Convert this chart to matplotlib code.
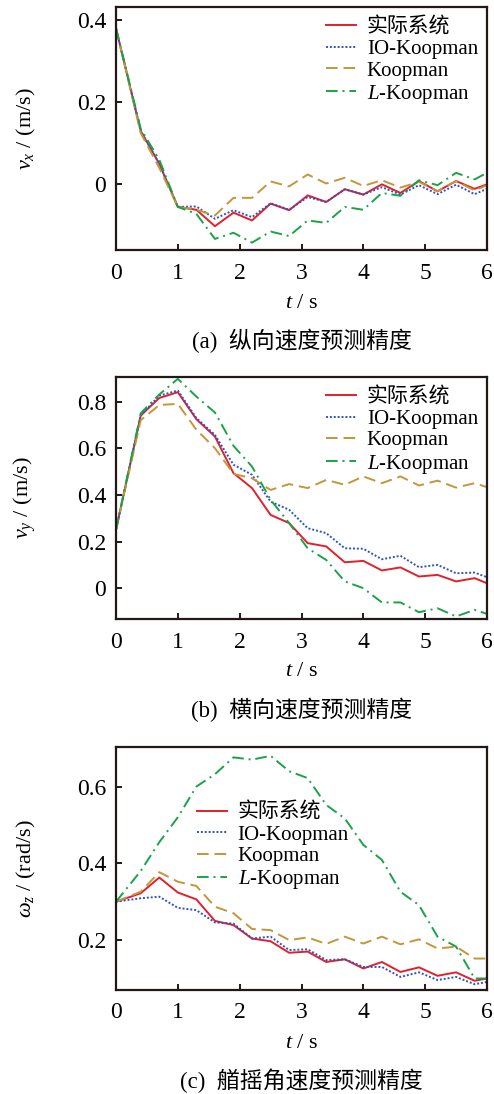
import matplotlib
matplotlib.use('Agg')
import matplotlib.pyplot as plt

plt.rcParams['font.family'] = 'Liberation Serif'
plt.rcParams['mathtext.fontset'] = 'custom'
plt.rcParams['mathtext.rm'] = 'Liberation Serif'
plt.rcParams['mathtext.it'] = 'Liberation Serif:italic'
mixed = ['Liberation Serif', 'Noto Sans CJK SC']

t = [0, 0.4, 0.7, 1.0, 1.3, 1.6, 1.9, 2.2, 2.5, 2.8, 3.1, 3.4, 3.7, 4.0, 4.3, 4.6, 4.9, 5.2, 5.5, 5.8, 6.0]

# (a) 纵向速度
vx_real = [0.38, 0.13, 0.05, -0.055, -0.062, -0.102, -0.069, -0.088, -0.047, -0.063, -0.027,
           -0.043, -0.012, -0.025, 0.0, -0.021, 0.008, -0.017, 0.008, -0.011, 0.0]
vx_io = [0.38, 0.13, 0.05, -0.055, -0.054, -0.084, -0.063, -0.080, -0.046, -0.062, -0.031,
         -0.043, -0.012, -0.025, -0.007, -0.025, -0.002, -0.024, -0.001, -0.024, -0.011]
vx_koop = [0.38, 0.125, 0.04, -0.055, -0.062, -0.076, -0.033, -0.033, 0.007, -0.005, 0.024,
           0.002, 0.016, -0.004, 0.010, -0.008, 0.006, -0.017, 0.008, -0.015, -0.002]
vx_lkoop = [0.38, 0.135, 0.06, -0.055, -0.072, -0.133, -0.118, -0.142, -0.115, -0.126, -0.088,
            -0.094, -0.055, -0.062, -0.021, -0.028, 0.010, -0.002, 0.028, 0.012, 0.028]

# (b) 横向速度
vy_real = [0.25, 0.74, 0.815, 0.84, 0.724, 0.65, 0.493, 0.429, 0.314, 0.279, 0.193,
           0.179, 0.111, 0.117, 0.076, 0.089, 0.05, 0.057, 0.029, 0.043, 0.021]
vy_io = [0.25, 0.74, 0.825, 0.847, 0.729, 0.657, 0.529, 0.486, 0.371, 0.336, 0.257,
         0.236, 0.171, 0.169, 0.124, 0.139, 0.09, 0.10, 0.064, 0.067, 0.047]
vy_koop = [0.25, 0.72, 0.785, 0.79, 0.679, 0.60, 0.49, 0.471, 0.421, 0.446, 0.429,
           0.464, 0.443, 0.479, 0.45, 0.479, 0.44, 0.461, 0.431, 0.45, 0.433]
vy_lkoop = [0.25, 0.75, 0.83, 0.897, 0.821, 0.753, 0.61, 0.521, 0.379, 0.279, 0.171,
            0.121, 0.029, 0.0, -0.061, -0.061, -0.103, -0.086, -0.121, -0.093, -0.11]

# (c) 艏摇角速度
wz_real = [0.30, 0.322, 0.363, 0.324, 0.306, 0.25, 0.239, 0.204, 0.197, 0.167, 0.17,
           0.143, 0.150, 0.126, 0.143, 0.117, 0.129, 0.107, 0.116, 0.094, 0.10]
wz_io = [0.30, 0.309, 0.313, 0.284, 0.278, 0.246, 0.243, 0.204, 0.209, 0.174, 0.176,
         0.148, 0.150, 0.130, 0.130, 0.104, 0.116, 0.096, 0.104, 0.085, 0.091]
wz_koop = [0.30, 0.326, 0.377, 0.352, 0.341, 0.287, 0.27, 0.229, 0.226, 0.20, 0.207,
           0.19, 0.209, 0.191, 0.209, 0.189, 0.202, 0.178, 0.183, 0.152, 0.152]
wz_lkoop = [0.30, 0.38, 0.455, 0.52, 0.60, 0.632, 0.676, 0.670, 0.680, 0.640, 0.622,
            0.552, 0.517, 0.448, 0.409, 0.326, 0.291, 0.209, 0.183, 0.10, 0.10]

labels = ['实际系统', 'IO-Koopman', 'Koopman', '$L$-Koopman']
xticks = [0, 1, 2, 3, 4, 5, 6]

panels = [
    dict(data=[vx_real, vx_io, vx_koop, vx_lkoop], ylim=(-0.16, 0.432),
         yticks=[0, 0.2, 0.4], yticklabels=['0', '0.2', '0.4'],
         ylabel='$v_x$ / (m/s)', caption='(a)  纵向速度预测精度',
         leg=dict(loc='upper right', bbox_to_anchor=(0.976, 0.958))),
    dict(data=[vy_real, vy_io, vy_koop, vy_lkoop], ylim=(-0.132, 0.905),
         yticks=[0, 0.2, 0.4, 0.6, 0.8], yticklabels=['0', '0.2', '0.4', '0.6', '0.8'],
         ylabel='$v_y$ / (m/s)', caption='(b)  横向速度预测精度',
         leg=dict(loc='upper right', bbox_to_anchor=(0.976, 0.958))),
    dict(data=[wz_real, wz_io, wz_koop, wz_lkoop], ylim=(0.07, 0.703),
         yticks=[0.2, 0.4, 0.6], yticklabels=['0.2', '0.4', '0.6'],
         ylabel='$\\omega_z$ / (rad/s)', caption='(c)  艏摇角速度预测精度',
         leg=dict(loc='upper left', bbox_to_anchor=(0.218, 0.77))),
]

styles = [
    dict(color='#e2202b', linestyle='-', linewidth=1.4),
    dict(color='#2f52c4', linestyle=(0, (1, 1)), linewidth=1.4),
    dict(color='#c4963a', linestyle=(0, (6, 3)), linewidth=1.4),
    dict(color='#1ba247', linestyle=(0, (6, 2.5, 1, 2.5)), linewidth=1.4),
]

W, H = 494, 1094
fig = plt.figure(figsize=(W / 100, H / 100), dpi=100)
edge = '#231815'

# axes boxes in pixels: (top, bottom)
boxes = [(7, 250), (377, 619), (747, 990)]
left, right = 116, 487

for p, (top, bot) in zip(panels, boxes):
    ax = fig.add_axes([left / W, 1 - bot / H, (right - left) / W, (bot - top) / H])
    for y, st, lab in zip(p['data'], styles, labels):
        ax.plot(t, y, label=lab, **st)
    ax.set_xlim(0, 6)
    ax.set_ylim(*p['ylim'])
    ax.set_xticks(xticks)
    ax.set_xticklabels([str(x) for x in xticks], family='Liberation Serif')
    ax.set_yticks(p['yticks'])
    ax.set_yticklabels(p['yticklabels'], family='Liberation Serif')
    ax.tick_params(direction='in', length=4, width=1.4, color=edge, labelsize=17,
                   top=False, right=False)
    ax.tick_params(axis='x', pad=9)
    ax.tick_params(axis='y', pad=7)
    for s in ax.spines.values():
        s.set_linewidth(1.6)
        s.set_color(edge)
    ax.set_ylabel(p['ylabel'], fontsize=16)
    ax.yaxis.set_label_coords(-0.21, 0.5)
    hpx = bot - top
    ax.text(0.5, -53 / hpx, '$t$ / s', transform=ax.transAxes, ha='center', va='center',
            fontsize=16)
    ax.text(0.5, -91 / hpx, p['caption'], transform=ax.transAxes, ha='center', va='center',
            fontsize=16.5, family=mixed)
    ax.legend(frameon=False, prop=dict(family=mixed, size=15), handlelength=1.45,
              handletextpad=0.5, labelspacing=0.1, borderpad=0, borderaxespad=0, **p['leg'])

fig.savefig('out.png', dpi=100)
